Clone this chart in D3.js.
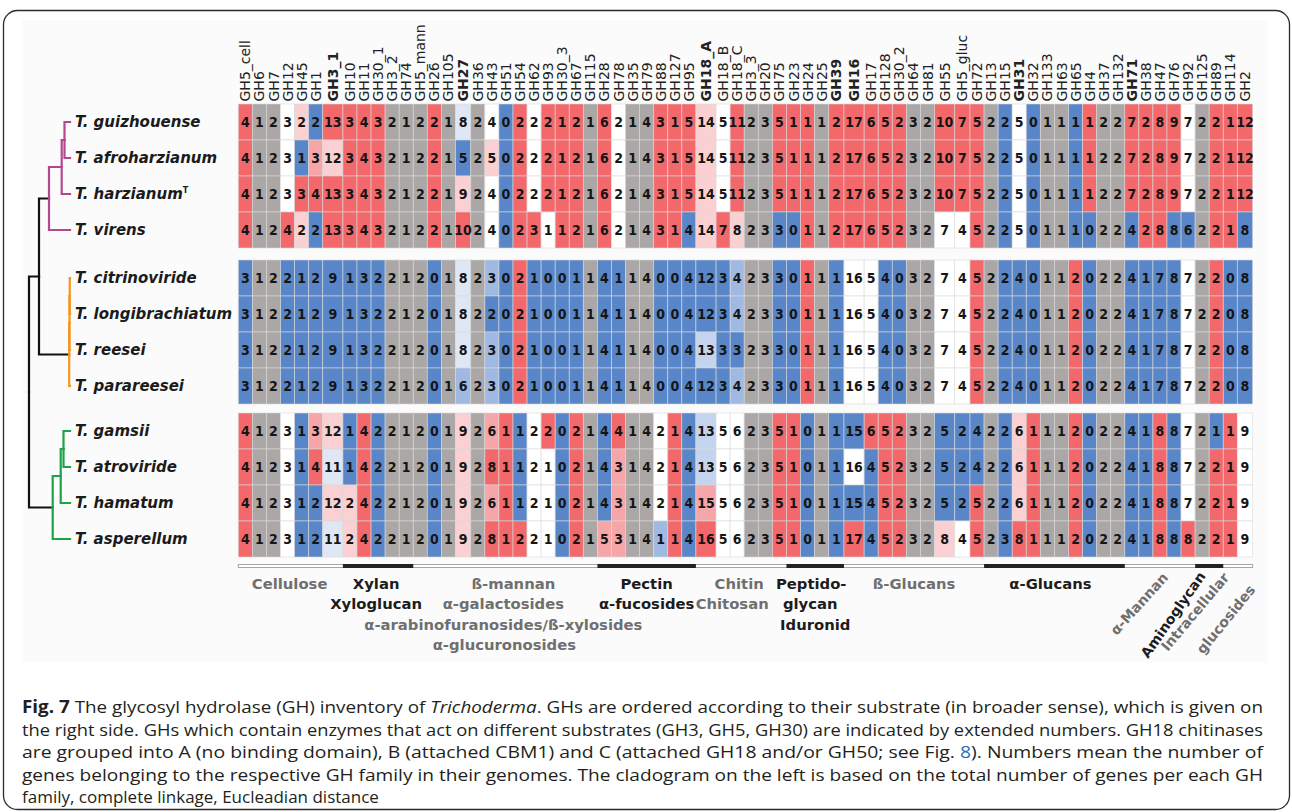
<!DOCTYPE html>
<html>
<head>
<meta charset="utf-8">
<script src="https://cdn.jsdelivr.net/npm/d3@7"></script>
<style>
html, body { margin: 0; padding: 0; background: #fff; }
svg { display: block; }
</style>
</head>
<body>
<svg id="chart" width="1292" height="812"></svg>
<script>
// GH families, ordered by substrate
var families = ['GH5_cell','GH6','GH7','GH12','GH45','GH1','GH3_1','GH10','GH11','GH30_1',
    'GH3_2','GH74','GH5_mann','GH26','GH105','GH27','GH36','GH43','GH51','GH54',
    'GH62','GH93','GH30_3','GH67','GH115','GH28','GH78','GH35','GH79','GH88',
    'GH127','GH95','GH18_A','GH18_B','GH18_C','GH3_3','GH20','GH75','GH23','GH24',
    'GH25','GH39','GH16','GH17','GH128','GH30_2','GH64','GH81','GH55','GH5_gluc',
    'GH72','GH13','GH15','GH31','GH32','GH133','GH63','GH65','GH4','GH37',
    'GH132','GH71','GH38','GH47','GH76','GH92','GH125','GH89','GH114','GH2'];

// families printed in bold in the header
var highlighted = ['GH3_1','GH27','GH18_A','GH39','GH16','GH31','GH71'];

var species = ['T. guizhouense','T. afroharzianum','T. harzianum','T. virens',
    'T. citrinoviride','T. longibrachiatum','T. reesei','T. parareesei',
    'T. gamsii','T. atroviride','T. hamatum','T. asperellum'];

// number of genes per family (one row per species)
var counts = [
    [4,1,2,3,2,2,13,3,4,3,2,1,2,2,1,8,2,4,0,2,2,2,1,2,1,6,2,1,4,3,1,5,14,5,11, 2,3,5,1,1,1,2,17,6,5,2,3,2,10,7,5,2,2,5,0,1,1,1,1,2,2,7,2,8,9,7,2,2,1,12],
    [4,1,2,3,1,3,12,3,4,3,2,1,2,2,1,5,2,5,0,2,2,2,1,2,1,6,2,1,4,3,1,5,14,5,11, 2,3,5,1,1,1,2,17,6,5,2,3,2,10,7,5,2,2,5,0,1,1,1,1,2,2,7,2,8,9,7,2,2,1,12],
    [4,1,2,3,3,4,13,3,4,3,2,1,2,2,1,9,2,4,0,2,2,2,1,2,1,6,2,1,4,3,1,5,14,5,11, 2,3,5,1,1,1,2,17,6,5,2,3,2,10,7,5,2,2,5,0,1,1,1,1,2,2,7,2,8,9,7,2,2,1,12],
    [4,1,2,4,2,2,13,3,4,3,2,1,2,2,1,10,2,4,0,2,3,1,1,2,1,6,2,1,4,3,1,4,14,7,8, 2,3,3,0,1,1,2,17,6,5,2,3,2,7,4,5,2,2,5,0,1,1,1,0,2,2,4,2,8,8,6,2,2,1,8],
    [3,1,2,2,1,2,9,1,3,2,2,1,2,0,1,8,2,3,0,2,1,0,0,1,1,4,1,1,4,0,0,4,12,3,4, 2,3,3,0,1,1,1,16,5,4,0,3,2,7,4,5,2,2,4,0,1,1,2,0,2,2,4,1,7,8,7,2,2,0,8],
    [3,1,2,2,1,2,9,1,3,2,2,1,2,0,1,8,2,2,0,2,1,0,0,1,1,4,1,1,4,0,0,4,12,3,4, 2,3,3,0,1,1,1,16,5,4,0,3,2,7,4,5,2,2,4,0,1,1,2,0,2,2,4,1,7,8,7,2,2,0,8],
    [3,1,2,2,1,2,9,1,3,2,2,1,2,0,1,8,2,3,0,2,1,0,0,1,1,4,1,1,4,0,0,4,13,3,3, 2,3,3,0,1,1,1,16,5,4,0,3,2,7,4,5,2,2,4,0,1,1,2,0,2,2,4,1,7,8,7,2,2,0,8],
    [3,1,2,2,1,2,9,1,3,2,2,1,2,0,1,6,2,3,0,2,1,0,0,1,1,4,1,1,4,0,0,4,12,3,4, 2,3,3,0,1,1,1,16,5,4,0,3,2,7,4,5,2,2,4,0,1,1,2,0,2,2,4,1,7,8,7,2,2,0,8],
    [4,1,2,3,1,3,12,1,4,2,2,1,2,0,1,9,2,6,1,1,2,2,0,2,1,4,4,1,4,2,1,4,13,5,6, 2,3,5,1,0,1,1,15,6,5,2,3,2,5,2,4,2,2,6,1,1,1,2,0,2,2,4,1,8,8,7,2,1,1,9],
    [4,1,2,3,1,4,11,1,4,2,2,1,2,0,1,9,2,8,1,1,2,1,0,2,1,4,3,1,4,2,1,4,13,5,6, 2,3,5,1,0,1,1,16,4,5,2,3,2,5,2,4,2,2,6,1,1,1,2,0,2,2,4,1,8,8,7,2,2,1,9],
    [4,1,2,3,1,2,12,2,4,2,2,1,2,0,1,9,2,6,1,1,2,1,0,2,1,4,3,1,4,2,1,4,15,5,6, 2,3,5,1,0,1,1,15,4,5,2,3,2,5,2,5,2,2,6,1,1,1,2,0,2,2,4,1,8,8,7,2,2,1,9],
    [4,1,2,3,1,2,11,2,4,2,2,1,2,0,1,9,2,8,1,2,2,1,0,2,1,5,3,1,4,1,1,4,16,5,6, 2,3,5,1,0,1,1,17,4,5,2,3,2,8,4,5,2,3,8,1,1,1,2,0,2,2,4,1,8,8,8,2,2,1,9]
];

// heat class per cell: R above, P/p lighter above, W average, b/c/L lighter below, B below, G no change
var heat = [
    'RGGWpBRRRRGGGRGbGWBRWRRRGRWGGRRRpWR' + 'GGRRRGRRRRRGGRRRGBWBGGBRGGRRRRWGRRR',
    'RGGWBPpRRRGGGRGBGpBRWRRRGRWGGRRRpWR' + 'GGRRRGRRRRRGGRRRGBWBGGBRGGRRRRWGRRR',
    'RGGWRRRRRRGGGRGpGWBRWRRRGRWGGRRRpWR' + 'GGRRRGRRRRRGGRRRGBWBGGBRGGRRRRWGRRR',
    'RGGRpBRRRRGGGRGRGWBRRWRRGRWGGRRBpRp' + 'GGBBRGRRRRRGGWWRGBWBGGBBGGBRRBBGRRB',
    'BGGBBBBBBBGGGBGbGLBRBBBBGBBGGBBBBBL' + 'GGBBRGBWWBBGGWWRGBBBGGRBGGBBBBWGRBB',
    'BGGBBBBBBBGGGBGbGBBRBBBBGBBGGBBBBBL' + 'GGBBRGBWWBBGGWWRGBBBGGRBGGBBBBWGRBB',
    'BGGBBBBBBBGGGBGbGLBRBBBBGBBGGBBBcBB' + 'GGBBRGBWWBBGGWWRGBBBGGRBGGBBBBWGRBB',
    'BGGBBBBBBBGGGBGLGLBRBBBBGBBGGBBBBBL' + 'GGBBRGBWWBBGGWWRGBBBGGRBGGBBBBWGRBB',
    'RGGWBPpBRBGGGBGpGPRBWRBRGBRGGWRBcWW' + 'GGRRBGBBRRRGGBBBGBpRGGRBGGBBRBWGBRW',
    'RGGWBRbBRBGGGBGpGRRBWWBRGBPGGWRBcWW' + 'GGRRBGBWBRRGGBBBGBpRGGRBGGBBRBWGRRW',
    'RGGWBBppRBGGGBGpGPRBWWBRGBPGGWRBPWW' + 'GGRRBGBBBRRGGBBRGBpRGGRBGGBBRBWGRRW',
    'RGGWBBbpRBGGGBGpGRRRWWBRGPPGGLRBRWW' + 'GGRRBGBRBRRGGpWRGBRRGGRBGGBBRBRGRRW'
];

// substrate groups: first and last family of each
var substrates = [
    { from: 'GH5_cell', to: 'GH3_1',  dark: false, lines: ['Cellulose'] },
    { from: 'GH10',     to: 'GH74',   dark: true,  lines: ['Xylan', 'Xyloglucan'] },
    { from: 'GH5_mann', to: 'GH115',  dark: false, lines: ['ß-mannan', 'α-galactosides', 'α-arabinofuranosides/ß-xylosides', 'α-glucuronosides'] },
    { from: 'GH28',     to: 'GH95',   dark: true,  lines: ['Pectin', 'α-fucosides'] },
    { from: 'GH18_A',   to: 'GH75',   dark: false, lines: ['Chitin', 'Chitosan'] },
    { from: 'GH23',     to: 'GH39',   dark: true,  lines: ['Peptido-', 'glycan', 'Iduronid'] },
    { from: 'GH16',     to: 'GH72',   dark: false, lines: ['ß-Glucans'] },
    { from: 'GH13',     to: 'GH132',  dark: true,  lines: ['α-Glucans'] },
    { from: 'GH71',     to: 'GH92',   dark: false, lines: ['α-Mannan'] },
    { from: 'GH125',    to: 'GH89',   dark: true,  lines: ['Aminoglycan'] },
    { from: 'GH114',    to: 'GH2',    dark: false, lines: ['Intracellular', 'glucosides'] }
];

// cladogram: leaves are species indices, h = merge height
var cladogram = { h: 41, c: [
    { h: 31, c: [
        { h: 21, col: '#b4488f', c: [ { h: 8.3, c: [ { h: 5.5, c: [0, 1] }, 2 ] }, 3 ] },
        { h: 0.8, col: '#f7941d', c: [ { h: 0.5, c: [ { h: 0.25, c: [4, 5] }, 6 ] }, 7 ] }
    ] },
    { h: 17.3, col: '#1fa34a', c: [ { h: 9.3, c: [ { h: 6.5, c: [8, 9] }, 10 ] }, 11 ] }
] };

var caption = [
    [ { t: 'Fig. 7', b: 1 }, { t: ' The glycosyl hydrolase (GH) inventory of ' }, { t: 'Trichoderma', i: 1 },
      { t: '. GHs are ordered according to their substrate (in broader sense), which is given on' } ],
    [ { t: 'the right side. GHs which contain enzymes that act on different substrates (GH3, GH5, GH30) are indicated by extended numbers. GH18 chitinases' } ],
    [ { t: 'are grouped into A (no binding domain), B (attached CBM1) and C (attached GH18 and/or GH50; see Fig. ' }, { t: '8', link: 1 },
      { t: '). Numbers mean the number of' } ],
    [ { t: 'genes belonging to the respective GH family in their genomes. The cladogram on the left is based on the total number of genes per each GH' } ],
    [ { t: 'family, complete linkage, Eucleadian distance' } ]
];

// ---------- layout ----------
var left = 238.3;
var wideCols = ['GH3_1', 'GH18_A', 'GH16', 'GH55'],
    midCols = ['GH27', 'GH39', 'GH5_gluc', 'GH2'];
var groupTop = [104, 260, 413];
var labelFont = 'DejaVu Sans, Verdana, sans-serif';

var colW = families.map(function(f){
    return wideCols.indexOf(f) >= 0 ? 20.2 : (midCols.indexOf(f) >= 0 ? 15.3 : 14.07);
});
var colStart = d3.cumsum([0].concat(colW.slice(0, -1)));
var x = d3.scaleOrdinal(families, Array.from(colStart, function(v){ return left + v; }));
var w = d3.scaleOrdinal(families, colW);

var band = d3.scaleBand().domain(d3.range(4)).range([0, 144]);
function rowTop(i){ return groupTop[Math.floor(i / 4)] + band(i % 4); }
function rowMid(i){ return rowTop(i) + band.bandwidth() / 2; }

var heatColor = d3.scaleOrdinal()
    .domain(['R', 'P', 'p', 'W', 'b', 'c', 'L', 'B', 'G'])
    .range(['#f2686b', '#f6a6a9', '#fbd0d2', '#ffffff', '#dfe7f4', '#c5d4ee', '#9fb9e2', '#5886c8', '#aaa7a6']);

var svg = d3.select('#chart');

// frame and figure panel
svg.append('rect').attr('x', 3.5).attr('y', 10.5).attr('width', 1286).attr('height', 799)
    .attr('rx', 14).attr('fill', 'none').attr('stroke', '#2b2b2b').attr('stroke-width', 1.3);
svg.append('rect').attr('x', 22).attr('y', 20).attr('width', 1246).attr('height', 643)
    .attr('fill', '#fbfbfb');

// ---------- heatmap ----------
var cells = [];
counts.forEach(function(row, r){
    row.forEach(function(v, c){
        cells.push({ r: r, f: families[c], v: v, k: heat[r][c] });
    });
});

var cellG = svg.append('g');
cellG.selectAll('rect')
    .data(cells)
    .enter().append('rect')
        .attr('x', function(d){ return x(d.f); })
        .attr('y', function(d){ return rowTop(d.r); })
        .attr('width', function(d){ return w(d.f); })
        .attr('height', band.bandwidth())
        .attr('fill', function(d){ return heatColor(d.k); })
        .attr('stroke', '#d9d9d9')
        .attr('stroke-opacity', 0.75)
        .attr('stroke-width', 0.8);

cellG.selectAll('text')
    .data(cells)
    .enter().append('text')
        .attr('x', function(d){ return x(d.f) + w(d.f) / 2; })
        .attr('y', function(d){ return rowMid(d.r); })
        .attr('dy', '0.36em')
        .attr('text-anchor', 'middle')
        .attr('font-family', 'DejaVu Sans Condensed, DejaVu Sans, sans-serif')
        .attr('font-weight', 'bold')
        .attr('font-size', 14)
        .attr('fill', '#151515')
        .text(function(d){ return d.v; });

// column headers
svg.append('g').selectAll('text')
    .data(families)
    .enter().append('text')
        .attr('transform', function(d){ return 'translate(' + (x(d) + w(d) / 2) + ',101.5) rotate(-90)'; })
        .attr('dy', '0.36em')
        .attr('font-family', labelFont)
        .attr('font-size', 14)
        .attr('font-weight', function(d){ return highlighted.indexOf(d) >= 0 ? 'bold' : 'normal'; })
        .attr('fill', '#222')
        .text(function(d){ return d; });

// species labels
var spG = svg.append('g')
    .attr('font-family', labelFont)
    .attr('font-size', 15)
    .attr('font-weight', 'bold')
    .attr('font-style', 'italic')
    .attr('fill', '#1b1b1b');
species.forEach(function(s, i){
    var t = spG.append('text').attr('x', 75).attr('y', rowMid(i)).attr('dy', '0.36em').text(s);
    if(s == 'T. harzianum'){
        t.append('tspan').attr('dy', '-0.75em').attr('font-size', 8).attr('font-style', 'normal').text('T');
    }
});

// ---------- cladogram ----------
var hx = d3.scaleLinear().domain([0, 41]).range([70, 29]);
var root = d3.hierarchy(cladogram, function(d){ return typeof d === 'number' ? null : d.c; });
root.eachAfter(function(n){
    if(n.children){
        n.y = (n.children[0].y + n.children[n.children.length - 1].y) / 2;
        n.x = hx(n.data.h);
    } else {
        n.y = rowMid(n.data);
        n.x = hx(0);
    }
});
root.eachBefore(function(n){
    n.color = (n.data && n.data.col) || (n.parent ? n.parent.color : '#111');
});

svg.append('g').selectAll('path')
    .data(root.descendants().filter(function(n){ return n.parent; }))
    .enter().append('path')
        .attr('d', function(n){ return 'M' + n.parent.x + ',' + n.parent.y + 'V' + n.y + 'H' + n.x; })
        .attr('fill', 'none')
        .attr('stroke', function(n){ return n.parent.color; })
        .attr('stroke-width', 2.2)
        .attr('stroke-linecap', 'square');

// ---------- substrate bar + labels ----------
function span(s){
    return [x(s.from), x(s.to) + w(s.to)];
}
var barY = 564.5;
var lastFam = families[families.length - 1];
svg.append('rect').attr('x', left).attr('y', barY)
    .attr('width', x(lastFam) + w(lastFam) - left).attr('height', 3)
    .attr('fill', '#fff').attr('stroke', '#9d9d9d').attr('stroke-width', 0.9);
svg.append('g').selectAll('rect')
    .data(substrates.filter(function(s){ return s.dark; }))
    .enter().append('rect')
        .attr('x', function(s){ return span(s)[0]; })
        .attr('y', barY - 0.5)
        .attr('width', function(s){ return span(s)[1] - span(s)[0]; })
        .attr('height', 4)
        .attr('fill', '#222');

// horizontal nudges of label lines, relative to the group centre
var lineDx = {
    'Cellulose': -1, 'Xylan': -2, 'Xyloglucan': -2,
    'ß-mannan': 8, 'α-galactosides': -2, 'α-arabinofuranosides/ß-xylosides': -2, 'α-glucuronosides': -1,
    'Chitin': -2, 'Chitosan': -9, 'Peptido-': -4, 'glycan': -5, 'Iduronid': 0,
    'ß-Glucans': 0, 'α-Glucans': -4
};
// slanted labels at the right end: [dx from group centre, y of text end, angle]
var slanted = {
    'α-Mannan': [9, 578, -48],
    'Aminoglycan': [-3, 576, -55],
    'Intracellular': [-8, 578, -50],
    'glucosides': [18, 590, -51]
};

var subG = svg.append('g')
    .attr('font-family', labelFont)
    .attr('font-weight', 'bold');
substrates.forEach(function(s){
    var sp = span(s), cx = (sp[0] + sp[1]) / 2;
    var col = s.dark ? '#1c1c1c' : '#6f6f6f';
    s.lines.forEach(function(line, li){
        if(slanted[line]){
            var p = slanted[line];
            subG.append('text')
                .attr('transform', 'translate(' + (cx + p[0]) + ',' + p[1] + ') rotate(' + p[2] + ')')
                .attr('text-anchor', 'end')
                .attr('font-size', 14)
                .attr('fill', col)
                .text(line);
        } else {
            subG.append('text')
                .attr('x', cx + (lineDx[line] || 0))
                .attr('y', 588.5 + li * 20.5)
                .attr('text-anchor', 'middle')
                .attr('font-size', 14.8)
                .attr('fill', col)
                .text(line);
        }
    });
});

// ---------- caption ----------
var capG = svg.append('g')
    .attr('font-family', 'Open Sans, Noto Sans, sans-serif')
    .attr('font-size', 17)
    .attr('fill', '#231f20');
caption.forEach(function(segs, li){
    var t = capG.append('text').attr('x', 22).attr('y', 713 + li * 22.5);
    if(li < caption.length - 1){
        t.attr('textLength', 1241).attr('lengthAdjust', 'spacingAndGlyphs');
    }
    segs.forEach(function(seg){
        var ts = t.append('tspan').text(seg.t);
        if(seg.b){ ts.attr('font-weight', 'bold'); }
        if(seg.i){ ts.attr('font-style', 'italic'); }
        if(seg.link){ ts.attr('fill', '#2a6ebb'); }
    });
});
</script>
</body>
</html>
